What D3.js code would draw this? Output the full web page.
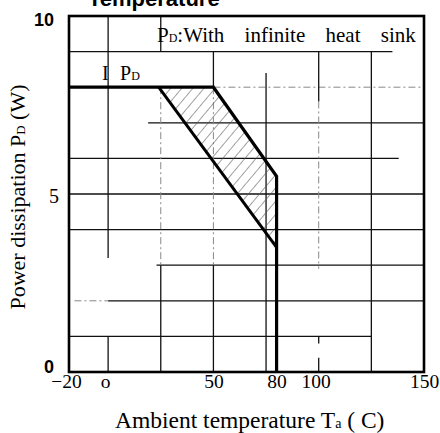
<!DOCTYPE html>
<html>
<head>
<meta charset="utf-8">
<script src="https://cdn.jsdelivr.net/npm/d3@7"></script>
<style>
  body { margin: 0; background: #fff; }
  svg { display: block; }
</style>
</head>
<body>
<div id="container"></div>
<script>
// data
let outerCurve = [[-20, 8], [50, 8], [80, 5.5], [80, 0]];   // PD with infinite heat sink
let innerCurve = [[24, 8], [80, 3.5]];                       // lower edge of the band
let bandArea = [[24, 8], [50, 8], [80, 5.5], [80, 3.5]];

let xTicks = [-20, 0, 50, 80, 100, 150];
let xTickLabels = ["\u221220", "o", "50", "80", "100", "150"];
let yTicks = [0, 5, 10];
let yTickLabels = ["0", "5", "10"];

// grid pieces as they survive in the scan: [PD, Ta from, Ta to, style]
let hGrid = [
    [9, -20, 135, 'solid'],
    [8, 50, 150, 'light'],
    [7, 19, 150, 'solid'],
    [6, -20, 138, 'solid'],
    [5, -20, 150, 'solid'],
    [4, -20, 150, 'solid'],
    [3, 23, 150, 'solid'],
    [2, -16, 0, 'light'],
    [2, 0, 150, 'solid'],
    [1, -20, 125, 'solid']
];
// [Ta, PD from, PD to, style]
let vGrid = [
    [0, 10, 3.2, 'solid'],
    [0, 1, 0, 'solid'],
    [25, 10, 9, 'solid'],
    [25, 8, 3, 'light'],
    [25, 3, 0, 'solid'],
    [50, 9, 8, 'solid'],
    [50, 8, 3, 'light'],
    [50, 3, 0, 'solid'],
    [75, 8.4, 0, 'solid'],
    [100, 9, 7.6, 'solid'],
    [100, 7.6, 2.9, 'light'],
    [100, 1, 0.8, 'solid'],
    [100, 0.4, 0, 'solid'],
    [125, 9, 0, 'solid']
];

let w = 440;
let h = 433;
let frameLeft = 69;

let serif = "'Liberation Serif', 'Times New Roman', serif";
let sans = "'Liberation Sans', Arial, sans-serif";

let xScale = d3.scaleLinear().domain([-20, 150]).range([66, 424]);
let yScale = d3.scaleLinear().domain([0, 10]).range([372, 16]);

let viz = d3.select('#container')
    .append('svg')
    .attr('width', w)
    .attr('height', h);

let defs = viz.append('defs');
defs.append('clipPath').attr('id', 'plotClip')
    .append('rect')
    .attr('x', frameLeft)
    .attr('y', yScale(10))
    .attr('width', xScale(150) - frameLeft)
    .attr('height', yScale(0) - yScale(10));

let hatch = defs.append('pattern')
    .attr('id', 'hatch')
    .attr('patternUnits', 'userSpaceOnUse')
    .attr('width', 8.5)
    .attr('height', 8.5)
    .attr('patternTransform', 'rotate(40)');
hatch.append('line')
    .attr('x1', 0).attr('y1', 0)
    .attr('x2', 0).attr('y2', 8.5)
    .attr('stroke', '#555')
    .attr('stroke-width', 1.1);

let plot = viz.append('g').attr('clip-path', 'url(#plotClip)');

// GRID
plot.selectAll('.hgrid')
    .data(hGrid)
    .enter()
    .append('line')
    .classed('hgrid', true)
    .attr('x1', d => xScale(d[1]))
    .attr('x2', d => xScale(d[2]))
    .attr('y1', d => yScale(d[0]))
    .attr('y2', d => yScale(d[0]))
    .attr('stroke', d => d[3] == 'solid' ? '#111' : '#888')
    .attr('stroke-width', d => d[3] == 'solid' ? 1.3 : 1)
    .attr('stroke-dasharray', d => d[3] == 'solid' ? null : '7,3,2,3');

plot.selectAll('.vgrid')
    .data(vGrid)
    .enter()
    .append('line')
    .classed('vgrid', true)
    .attr('x1', d => xScale(d[0]))
    .attr('x2', d => xScale(d[0]))
    .attr('y1', d => yScale(d[1]))
    .attr('y2', d => yScale(d[2]))
    .attr('stroke', d => d[3] == 'solid' ? '#111' : '#888')
    .attr('stroke-width', d => d[3] == 'solid' ? 1.3 : 1)
    .attr('stroke-dasharray', d => d[3] == 'solid' ? null : '7,3,2,3');

// hatched band + curves
let line = d3.line().x(d => xScale(d[0])).y(d => yScale(d[1]));

plot.append('path')
    .datum(bandArea)
    .attr('d', d => line(d) + 'Z')
    .attr('fill', 'url(#hatch)')
    .attr('stroke', 'none');

plot.append('path')
    .datum(innerCurve)
    .attr('d', line)
    .attr('fill', 'none')
    .attr('stroke', '#000')
    .attr('stroke-width', 3);

plot.append('path')
    .datum(outerCurve)
    .attr('d', line)
    .attr('fill', 'none')
    .attr('stroke', '#000')
    .attr('stroke-width', 3.2)
    .attr('stroke-linejoin', 'miter');

// FRAME
viz.append('rect')
    .attr('x', frameLeft)
    .attr('y', yScale(10))
    .attr('width', xScale(150) - frameLeft)
    .attr('height', yScale(0) - yScale(10))
    .attr('fill', 'none')
    .attr('stroke', '#000')
    .attr('stroke-width', 2.6);

// AXES
let xAxis = d3.axisBottom(xScale)
    .tickValues(xTicks)
    .tickSize(0)
    .tickFormat((d, i) => xTickLabels[i]);
let xAxisGroup = viz.append('g')
    .attr('transform', `translate(0,${yScale(0)})`)
    .call(xAxis);
xAxisGroup.select('.domain').remove();
xAxisGroup.selectAll('text')
    .attr('font-family', serif)
    .attr('font-size', 19.5)
    .attr('fill', '#000')
    .attr('y', 16)
    .attr('dy', 0)
    .attr('dx', d => d == 0 ? -3 : d == 100 ? -3 : 0);

let yAxis = d3.axisLeft(yScale)
    .tickValues(yTicks)
    .tickSize(0)
    .tickFormat((d, i) => yTickLabels[i]);
let yAxisGroup = viz.append('g')
    .attr('transform', `translate(${frameLeft},0)`)
    .call(yAxis);
yAxisGroup.select('.domain').remove();
yAxisGroup.selectAll('text')
    .attr('fill', '#000')
    .attr('dy', 0)
    .attr('x', d => d == 5 ? -10 : -15)
    .attr('y', d => d == 10 ? 9 : d == 5 ? 8 : 0)
    .attr('font-family', d => d == 5 ? serif : "'Liberation Sans Narrow', " + sans)
    .attr('font-weight', d => d == 5 ? 'normal' : 'bold')
    .attr('font-size', d => d == 5 ? 20 : 18);

// TITLES
viz.append('text')
    .attr('x', 88)
    .attr('y', 6)
    .attr('font-family', sans)
    .attr('font-weight', 'bold')
    .attr('font-size', 22)
    .text('Temperature');

let xTitle = viz.append('text')
    .attr('x', 115)
    .attr('y', 428)
    .attr('font-family', serif)
    .attr('font-size', 23.5);
xTitle.append('tspan').text('Ambient temperature T');
xTitle.append('tspan').attr('font-size', 14).text('a');
xTitle.append('tspan').text(' ( C)');

let yTitle = viz.append('text')
    .attr('transform', 'translate(25,197) rotate(-90)')
    .attr('text-anchor', 'middle')
    .attr('font-family', serif)
    .attr('font-size', 22);
yTitle.append('tspan').text('Power dissipation P');
yTitle.append('tspan').attr('font-size', 13).text('D');
yTitle.append('tspan').text(' (W)');

// annotations
let note = viz.append('text')
    .attr('x', 157)
    .attr('y', 42)
    .attr('font-family', serif)
    .attr('font-size', 21)
    .attr('word-spacing', 15);
note.append('tspan').text('P');
note.append('tspan').attr('font-size', 12).text('D');
note.append('tspan').text(':With infinite heat sink');

let pdLabel = viz.append('text')
    .attr('x', 102)
    .attr('y', 80)
    .attr('font-family', serif)
    .attr('font-size', 20);
pdLabel.append('tspan').text('I');
pdLabel.append('tspan').attr('x', 120).text('P');
pdLabel.append('tspan').attr('font-size', 12).text('D');
</script>
</body>
</html>
